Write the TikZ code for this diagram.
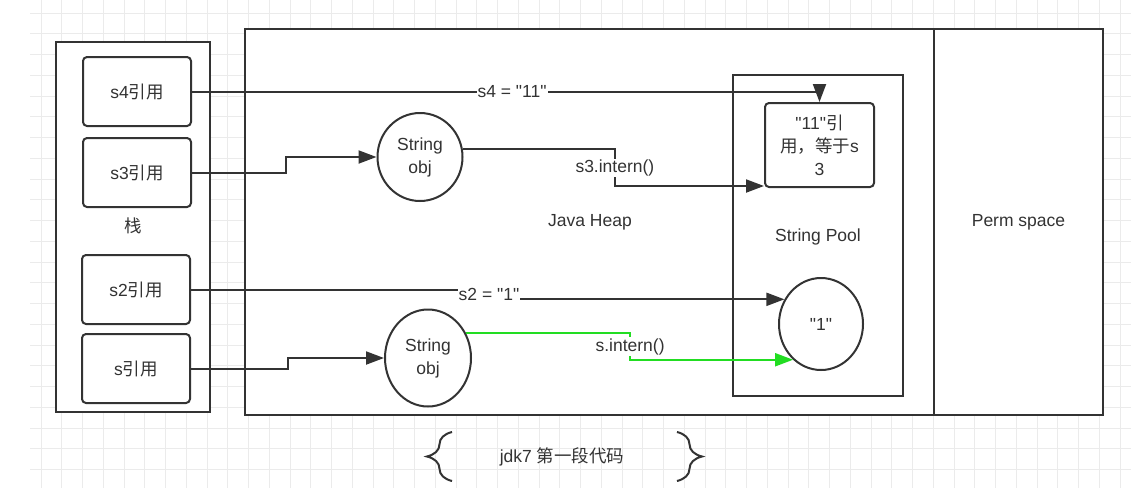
\documentclass[tikz,border=0pt]{standalone}
\usepackage{fontspec}
\setmainfont{Liberation Sans}[Ligatures=TeXOff]
\newfontfamily\cjk{Noto Sans CJK SC}
\usetikzlibrary{positioning, arrows.meta, shapes.geometric, decorations.pathreplacing, calc}
\definecolor{linegray}{HTML}{333333}
\definecolor{gridgray}{HTML}{EBEBEB}
\definecolor{interngreen}{HTML}{22DD22}

\begin{document}
\begin{tikzpicture}[
    x=1pt, y=-1pt,
    every node/.style={font=\fontsize{17.5}{23}\selectfont, text=linegray},
    area/.style={draw=linegray, line width=2pt, fill=white, inner sep=0pt},
    refbox/.style={area, rounded corners=4pt, minimum width=108pt, minimum height=69pt},
    objcircle/.style={area, ellipse, minimum width=85pt, minimum height=88pt, align=center},
    link/.style={draw=linegray, line width=2pt, -{Triangle[length=18pt,width=13pt]}},
    lbl/.style={fill=white, inner sep=1pt},
    brace/.style={draw=linegray, line width=2pt, decorate, decoration={brace, amplitude=25pt}},
  ]
  \useasboundingbox[fill=white] (0,0) rectangle (1131,488);
  % background grid
  \foreach \i in {0,...,52}
    \draw[gridgray, line width=0.8pt] (41+20.75*\i,0) -- (41+20.75*\i,488);
  \foreach \j in {0,...,22}
    \draw[gridgray, line width=0.8pt] (30,13+20.75*\j) -- (1131,13+20.75*\j);

  % stack
  \node[area, minimum width=154pt, minimum height=370pt] (stack) at (133,227) {};
  \node[refbox] (s4ref) at (137,91.5) {s4{\cjk 引用}};
  \node[refbox] (s3ref) at (137,172.5) {s3{\cjk 引用}};
  \node (stacklbl) at (133,226) {{\cjk 栈}};
  \node[refbox] (s2ref) at (136,289.5) {s2{\cjk 引用}};
  \node[refbox] (sref) at (136,368.5) {s{\cjk 引用}};

  % heap and perm space
  \node[area, minimum width=858pt, minimum height=386pt] (heap) at (674,222) {};
  \node[area, minimum width=169pt, minimum height=386pt] (perm) at (1018.5,222) {Perm space};
  \node (heaplbl) at (590,222) {Java Heap};
  \node[area, minimum width=170pt, minimum height=321pt] (pool) at (818,235.5) {};
  \node (poollbl) at (818,237) {String Pool};
  \node[area, rounded corners=4pt, minimum width=109pt, minimum height=84pt, align=center] (s11box) at (819.5,145)
    {"11"{\cjk 引}\\{\cjk 用，等于}s\\3};
  \node[objcircle] (objA) at (420,157) {String\\obj};
  \node[objcircle, minimum width=86pt, minimum height=97pt] (objB) at (428,358) {String\\obj};
  \node[objcircle, minimum width=84pt, minimum height=92pt] (one) at (821,324) {"1"};

  % references
  \draw[link] (s4ref.east) -| node[lbl, pos=0.255] {s4 = "11"} (s11box.north);
  \draw[link] (s3ref.east) -- ++(94,0) |- (objA.west);
  \draw[link] (objA.10) -- ++(152,0) |- node[lbl, pos=0.25] {s3.intern()} ($(s11box.south west)+(0,-2)$);
  \draw[link] (s2ref.east) -- ++(298,0) |- node[lbl, pos=0.25] {s2 = "1"} (one.146);
  \draw[link] (sref.east) -- ++(97,0) |- (objB.west);
  \draw[link, draw=interngreen] (objB.33) -- ++(164,0) |- node[lbl, pos=0.25] {s.intern()} (one.232);

  % caption
  \draw[brace] (452,481) -- (452,432);
  \node (jdklbl) at (562,457) {jdk7 {\cjk 第一段代码}};
  \draw[brace] (677,432) -- (677,481);
\end{tikzpicture}
\end{document}
